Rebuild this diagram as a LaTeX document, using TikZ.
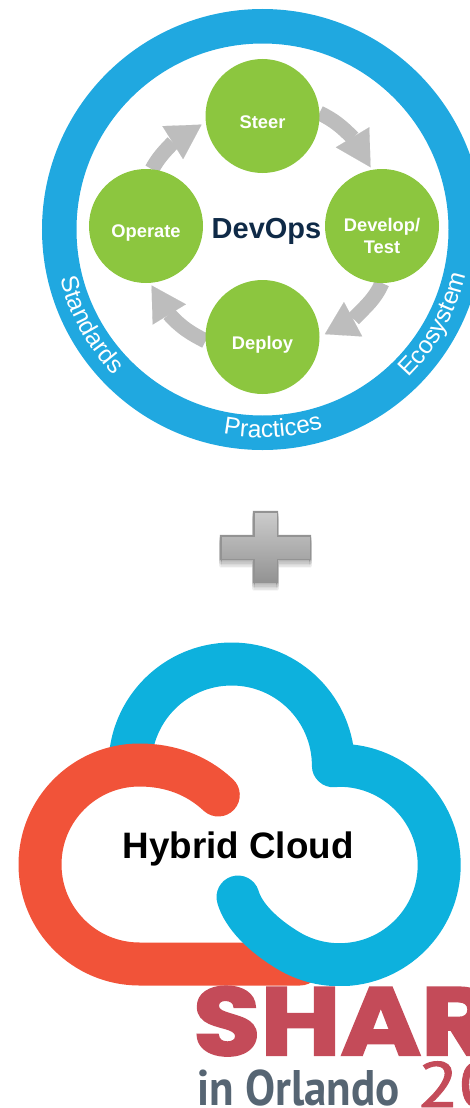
\documentclass[tikz,border=0pt]{standalone}
\usepackage{fontspec}
\setmainfont{Liberation Sans}
\newfontfamily\ringfont{Liberation Sans}
\newfontfamily\logofont{Poppins}[UprightFont=* Bold,FakeStretch=1.14,FakeBold=2.5]
\newfontfamily\cityfont{PT Sans}[FakeStretch=0.9]
\newfontfamily\yearfont{PT Sans}[FakeStretch=1.2,FakeBold=1.5]
\usetikzlibrary{arrows.meta,backgrounds,calc,decorations.text}
\definecolor{ringblue}{HTML}{20A8E0}
\definecolor{leaf}{HTML}{8CC63F}
\definecolor{flow}{HTML}{BDBDBD}
\definecolor{navy}{HTML}{0F2A47}
\definecolor{cloudblue}{HTML}{0DB1DD}
\definecolor{cloudred}{HTML}{F15339}
\definecolor{sharered}{HTML}{C44B59}
\definecolor{citygrey}{HTML}{566573}
\tikzset{
  x=1pt,y=1pt,
  stage/.style={circle,fill=leaf,minimum size=114pt,inner sep=0pt,outer sep=0pt,text=white,align=center,font=\fontsize{18.3}{22}\selectfont\bfseries},
  flowshaft/.style={draw=flow,line width=15pt},
  flowhead/.style={draw=flow,fill=flow,line width=0.1pt,-{Triangle[length=#1,width=39pt,fill=flow]}},
  ringlabel/.style={decorate,decoration={text along path,text align=center,text color=white,text={|\ringfont\fontsize{24.5}{28}\selectfont|#1}}},
  cloudline/.style={line width=43pt,line join=round}
}
\newcommand{\dropped}[2]{\raisebox{-#1pt}[\height][\depth]{#2}}
\newcommand{\plusoutline}{(253.75,-511.75) -- (277.25,-511.75) -- (277.25,-535.75) -- (310.25,-535.75) -- (310.25,-559.25) -- (277.25,-559.25) -- (277.25,-582.25) -- (253.75,-582.25) -- (253.75,-559.25) -- (220.75,-559.25) -- (220.75,-535.75) -- (253.75,-535.75) -- cycle}
\begin{document}
\begin{tikzpicture}
\useasboundingbox[clip] (0,0) rectangle (470,-1108);
% ring
\node[circle,draw=ringblue,line width=34.5pt,minimum size=406.5pt,inner sep=0pt,outer sep=0pt] (ring) at (262.5,-229.5) {};
\path[ringlabel=Standards] ($(ring.center)+(169:208)$) arc[start angle=169,end angle=249,radius=208];
\path[ringlabel=Practices] ($(ring.center)+(233:208)$) arc[start angle=233,end angle=313,radius=208];
\path[ringlabel=Ecosystem] ($(ring.center)+(291:208)$) arc[start angle=291,end angle=371,radius=208];
% stages
\node[stage] (steer) at (262.5,-116) {\dropped{6}{Steer}};
\node[stage] (dev) at (382,-226) {\dropped{10}{Develop/}\\\dropped{10}{Test}};
\node[stage] (deploy) at (262.5,-337) {\dropped{8}{Deploy}};
\node[stage] (operate) at (146,-226) {\dropped{7}{Operate}};
\node[text=navy,font=\fontsize{29}{34}\selectfont\bfseries] (devops) at (266.5,-231) {DevOps};
\coordinate (base1) at (353,-138);
\coordinate (base2) at (353.5,-319);
\coordinate (base3) at (169,-314);
\coordinate (base4) at (173,-142.5);
\begin{scope}[on background layer]
\draw[flowshaft] (steer.3) to[out=-26,in=135] (base1);
\draw[flowhead=35pt,shorten >=3pt] (base1) -- (dev.100);
\draw[flowshaft] (dev.-90) to[out=-114,in=46] (base2);
\draw[flowhead=32pt,shorten >=6pt] (base2) -- (deploy.east);
\draw[flowshaft] (deploy.184) to[out=153,in=-48] (base3);
\draw[flowhead=34pt,shorten >=3pt] (base3) -- (operate.-86);
\draw[flowshaft] (operate.84) to[out=61,in=226] (base4);
\draw[flowhead=34pt,shorten >=5pt] (base4) -- (steer.186);
\end{scope}
% plus
\foreach \op/\dy in {0.05/0,0.05/-1.5,0.05/-3,0.05/-4.5,0.04/-6,0.03/-7.5}
  \filldraw[black,draw opacity=\op,fill opacity=\op,line width=3pt,line join=round,shift={(0,\dy)}] \plusoutline;
\shade[top color=gray!40!white,bottom color=gray!85!white,draw=gray!85!white,line width=1.5pt] \plusoutline;
% cloud
\coordinate (hub) at (231.7,-765.7);
\coordinate (lobe) at (339.5,-865);
\draw[cloudline,draw=cloudblue] ($(hub)+(180:101.7)$) arc[start angle=180,end angle=0,radius=101.7] -- ($(lobe)+(90:99.7)$);
\draw[cloudline,draw=cloudred,line cap=round] (218.3,-795) .. controls (197,-775) and (170,-765) .. (139.5,-765) arc[start angle=90,end angle=270,radius=99.5] -- (300,-964);
\draw[cloudline,draw=cloudblue,line cap=round] ($(lobe)+(90:99.7)$) arc[start angle=90,end angle=-120,radius=99.7] .. controls (262,-935) and (243,-915) .. (238,-897);
\fill[white] (0,-985.5) rectangle (470,-1010);
\node[font=\fontsize{36.8}{44}\selectfont\bfseries,text=black] (hybrid) at (238,-849) {Hybrid Cloud};
% logo
\node[anchor=base west,inner sep=0pt,text=sharered,font=\logofont\fontsize{96}{100}\selectfont] (share) at (193,-1055) {SHAR};
\node[anchor=base west,inner sep=0pt,text=citygrey,font=\cityfont\bfseries\fontsize{50}{56}\selectfont] (city) at (197,-1105) {in Orlando};
\node[anchor=base west,inner sep=0pt,text=sharered,font=\yearfont\fontsize{64}{70}\selectfont] (year) at (417,-1107) {20};
\end{tikzpicture}
\end{document}
